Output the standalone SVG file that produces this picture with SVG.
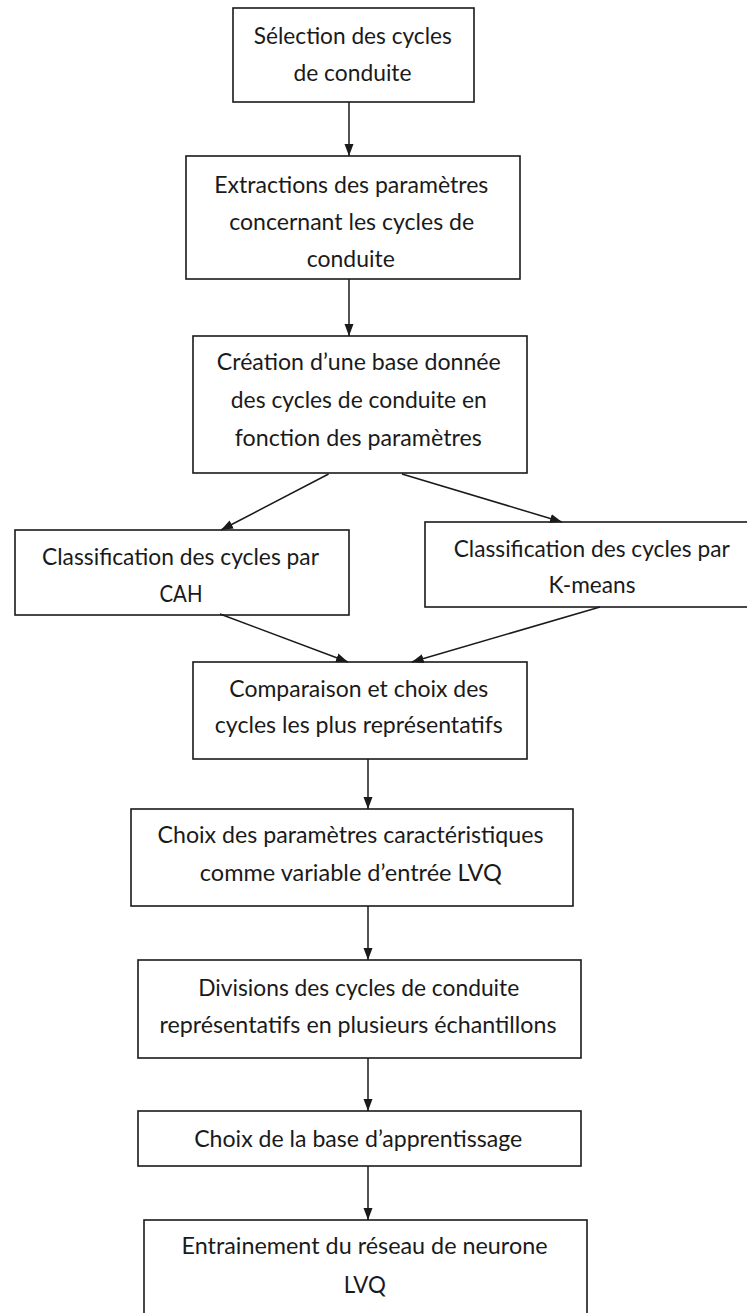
<svg xmlns="http://www.w3.org/2000/svg" width="747" height="1313" viewBox="0 0 747 1313">
<style>
.box{fill:#fff;stroke:#1a1a1a;stroke-width:1.6}
.t{font-family:Lato,"Open Sans","Liberation Sans",sans-serif;font-size:22.5px;fill:#1a1a1a;text-anchor:middle}
.c{stroke:#1a1a1a;stroke-width:1.5;fill:none;marker-end:url(#ah)}
</style>
<defs>
<marker id="ah" markerUnits="userSpaceOnUse" markerWidth="12" markerHeight="12" viewBox="0 0 12 12" refX="12" refY="6" orient="auto">
<path d="M0,1.5 L12,6 L0,10.5 Z" fill="#1a1a1a"/>
</marker>
</defs>
<rect width="747" height="1313" fill="#fff"/>
<g id="n1"><rect class="box" x="233" y="8" width="241" height="94"/>
<text class="t" x="352.8" y="44" textLength="198" lengthAdjust="spacingAndGlyphs">Sélection des cycles</text>
<text class="t" x="352.5" y="81" textLength="118" lengthAdjust="spacingAndGlyphs">de conduite</text></g>
<g id="n2"><rect class="box" x="186" y="156" width="334" height="123"/>
<text class="t" x="351.3" y="193" textLength="274" lengthAdjust="spacingAndGlyphs">Extractions des paramètres</text>
<text class="t" x="351.7" y="230" textLength="245" lengthAdjust="spacingAndGlyphs">concernant les cycles de</text>
<text class="t" x="350.8" y="267" textLength="88" lengthAdjust="spacingAndGlyphs">conduite</text></g>
<g id="n3"><rect class="box" x="193" y="336" width="334" height="137"/>
<text class="t" x="358.8" y="370" textLength="284" lengthAdjust="spacingAndGlyphs">Création d’une base donnée</text>
<text class="t" x="358.8" y="408" textLength="256" lengthAdjust="spacingAndGlyphs">des cycles de conduite en</text>
<text class="t" x="358.3" y="445.5" textLength="247" lengthAdjust="spacingAndGlyphs">fonction des paramètres</text></g>
<g id="n4"><rect class="box" x="15" y="530" width="334" height="85"/>
<text class="t" x="180.5" y="565" textLength="277" lengthAdjust="spacingAndGlyphs">Classification des cycles par</text>
<text class="t" x="181" y="601.5" textLength="43" lengthAdjust="spacingAndGlyphs">CAH</text></g>
<g id="n5"><rect class="box" x="425" y="522" width="334" height="85"/>
<text class="t" x="591.7" y="556.5" textLength="276" lengthAdjust="spacingAndGlyphs">Classification des cycles par</text>
<text class="t" x="592" y="593" textLength="87" lengthAdjust="spacingAndGlyphs">K-means</text></g>
<g id="n6"><rect class="box" x="193" y="662" width="334" height="97"/>
<text class="t" x="358.8" y="696.5" textLength="259" lengthAdjust="spacingAndGlyphs">Comparaison et choix des</text>
<text class="t" x="358.8" y="733.3" textLength="288" lengthAdjust="spacingAndGlyphs">cycles les plus représentatifs</text></g>
<g id="n7"><rect class="box" x="131" y="809" width="442" height="97"/>
<text class="t" x="350.5" y="843.3" textLength="386" lengthAdjust="spacingAndGlyphs">Choix des paramètres caractéristiques</text>
<text class="t" x="350.8" y="881" textLength="302" lengthAdjust="spacingAndGlyphs">comme variable d’entrée LVQ</text></g>
<g id="n8"><rect class="box" x="138" y="960" width="443" height="98"/>
<text class="t" x="358.7" y="995.7" textLength="321" lengthAdjust="spacingAndGlyphs">Divisions des cycles de conduite</text>
<text class="t" x="358" y="1033.3" textLength="397" lengthAdjust="spacingAndGlyphs">représentatifs en plusieurs échantillons</text></g>
<g id="n9"><rect class="box" x="138" y="1111" width="443" height="55"/>
<text class="t" x="358.2" y="1146.7" textLength="328" lengthAdjust="spacingAndGlyphs">Choix de la base d’apprentissage</text></g>
<g id="n10"><rect class="box" x="144" y="1220" width="443" height="120"/>
<text class="t" x="364.5" y="1254" textLength="366" lengthAdjust="spacingAndGlyphs">Entrainement du réseau de neurone</text>
<text class="t" x="364.8" y="1292.5" textLength="42" lengthAdjust="spacingAndGlyphs">LVQ</text></g>
<g id="connectors">
<path class="c" d="M349,102 L349,156"/>
<path class="c" d="M349,279 L349,336"/>
<path class="c" d="M328.6,474 L221,530"/>
<path class="c" d="M402,474 L562,522"/>
<path class="c" d="M220,614 L348,662"/>
<path class="c" d="M600,607 L411.7,662"/>
<path class="c" d="M368,759 L368,809"/>
<path class="c" d="M368,906 L368,960"/>
<path class="c" d="M368,1058 L368,1111"/>
<path class="c" d="M368,1166 L368,1220"/>
</g>
</svg>
